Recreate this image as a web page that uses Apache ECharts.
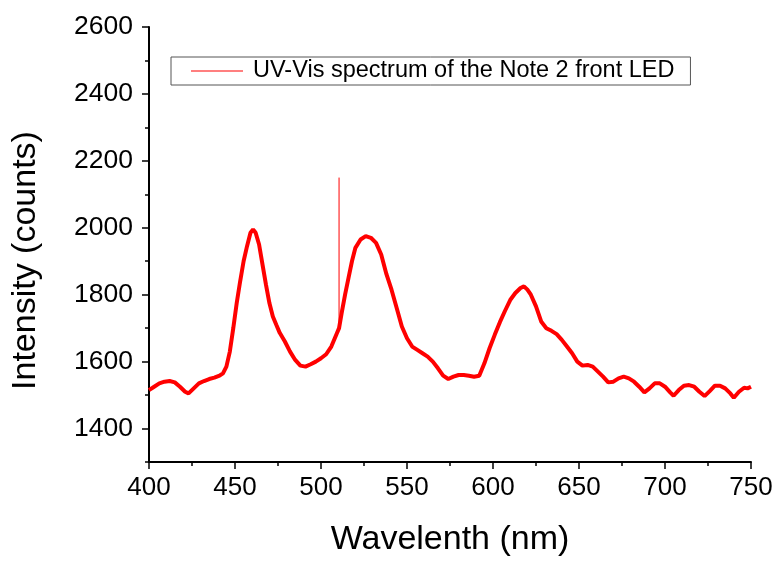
<!DOCTYPE html>
<html>
<head>
<meta charset="utf-8">
<script src="https://cdn.jsdelivr.net/npm/echarts@6/dist/echarts.min.js"></script>
<style>
html,body{margin:0;padding:0;background:#fff;}
#chart{width:776px;height:562px;}
</style>
</head>
<body>
<div id="chart"></div>
<script>
const wavelength = [400,403,406,409,412,415,418,421,423,426,429,432,435,438,441,443,445,447,449,451,453,455,457,459,460.5,462,464,466,468,470,472,474,476,479,482,485,488,491,494,497,500,503,506,509,510.5,512,514,516,518,520,523,526,529,532,535,538,541,544,547,550,553,556,559,562,565,568,571,574,577,580,583,586,589,592,595,598,601,604,607,610,613,616,618,620,622,625,628,631,634,637,640,643,646,649,652,655,658,661,664,667,670,673,676,679,682,685,688,691,694,697,700,703,705,708,711,714,717,720,723,726,729,732,735,738,740,743,746,748,750];
const intensity = [1515,1525,1535,1540,1542,1538,1525,1510,1505,1520,1535,1542,1548,1552,1558,1565,1585,1630,1700,1775,1840,1900,1945,1985,1995,1985,1950,1890,1830,1775,1735,1710,1686,1660,1630,1605,1588,1585,1592,1600,1610,1622,1645,1682,1700,1745,1800,1850,1900,1940,1965,1975,1970,1955,1920,1862,1815,1760,1705,1670,1645,1635,1625,1615,1600,1580,1558,1548,1555,1560,1560,1558,1555,1558,1595,1640,1680,1718,1752,1784,1805,1820,1825,1815,1800,1765,1720,1700,1692,1682,1665,1645,1625,1600,1588,1590,1585,1570,1555,1538,1540,1550,1555,1550,1540,1525,1508,1520,1535,1535,1525,1508,1498,1515,1528,1530,1525,1510,1497,1512,1528,1528,1520,1505,1492,1510,1522,1520,1525];
const spikeWavelength = [510.5, 510.5];
const spikeIntensity = [1700, 2150];
const yMajorTicks = [1400,1600,1800,2000,2200,2400,2600];
const yMinorTicks = [1300,1500,1700,1900,2100,2300,2500];
const seriesName = 'UV-Vis spectrum of the Note 2 front LED';

const FONT = '"Liberation Sans", Arial, sans-serif';
const chart = echarts.init(document.getElementById('chart'), null, {renderer:'canvas'});
chart.setOption({
  animation: false,
  backgroundColor: '#ffffff',
  grid: {left: 149, right: 25, top: 27, bottom: 93},
  legend: {
    data: [seriesName],
    left: 171, top: 57,
    padding: [2, 16, 2, 20],
    icon: 'rect',
    itemWidth: 52, itemHeight: 1,
    itemGap: 0,
    borderColor: '#555', borderWidth: 1,
    textStyle: {fontFamily: FONT, fontSize: 23.5, color: '#000', padding: [0,0,0,5]}
  },
  xAxis: {
    type: 'value', min: 400, max: 750, interval: 50,
    name: 'Wavelenth (nm)', nameLocation: 'middle', nameGap: 61,
    nameTextStyle: {fontFamily: FONT, fontSize: 34, color: '#000'},
    axisLine: {show: true, onZero: false, lineStyle: {color: '#000', width: 2}},
    axisTick: {show: true, length: 7, lineStyle: {color: '#000', width: 1.5}},
    minorTick: {show: true, splitNumber: 2, length: 4, lineStyle: {color: '#000', width: 1.5}},
    axisLabel: {fontFamily: FONT, fontSize: 26, color: '#000', margin: 13, formatter: v => String(v)},
    splitLine: {show: false}
  },
  yAxis: [{
    type: 'value', min: 1300, max: 2600, interval: 100,
    name: 'Intensity (counts)', nameLocation: 'middle', nameGap: 106,
    nameTextStyle: {fontFamily: FONT, fontSize: 34, color: '#000', padding: [0, 32, 0, 0]},
    axisLine: {show: true, onZero: false, lineStyle: {color: '#000', width: 2}},
    axisTick: {show: true, length: 7, customValues: yMajorTicks, lineStyle: {color: '#000', width: 1.5}},
    axisLabel: {fontFamily: FONT, fontSize: 26.5, color: '#000', margin: 16, customValues: yMajorTicks, formatter: v => String(v)},
    splitLine: {show: false}
  }, {
    type: 'value', min: 1300, max: 2600, interval: 100, position: 'left',
    axisLine: {show: false},
    axisTick: {show: true, length: 4, customValues: yMinorTicks, lineStyle: {color: '#000', width: 1.5}},
    axisLabel: {show: false},
    splitLine: {show: false}
  }],
  series: [{
    name: seriesName,
    type: 'line',
    yAxisIndex: 0,
    symbol: 'none',
    lineStyle: {color: '#ff0000', width: 4},
    itemStyle: {color: '#ff0000'},
    data: wavelength.map((w, i) => [w, intensity[i]])
  }, {
    name: 'spike',
    type: 'line',
    yAxisIndex: 0,
    symbol: 'none',
    lineStyle: {color: '#ff0000', width: 1},
    data: spikeWavelength.map((w, i) => [w, spikeIntensity[i]])
  }]
});
</script>
</body>
</html>
